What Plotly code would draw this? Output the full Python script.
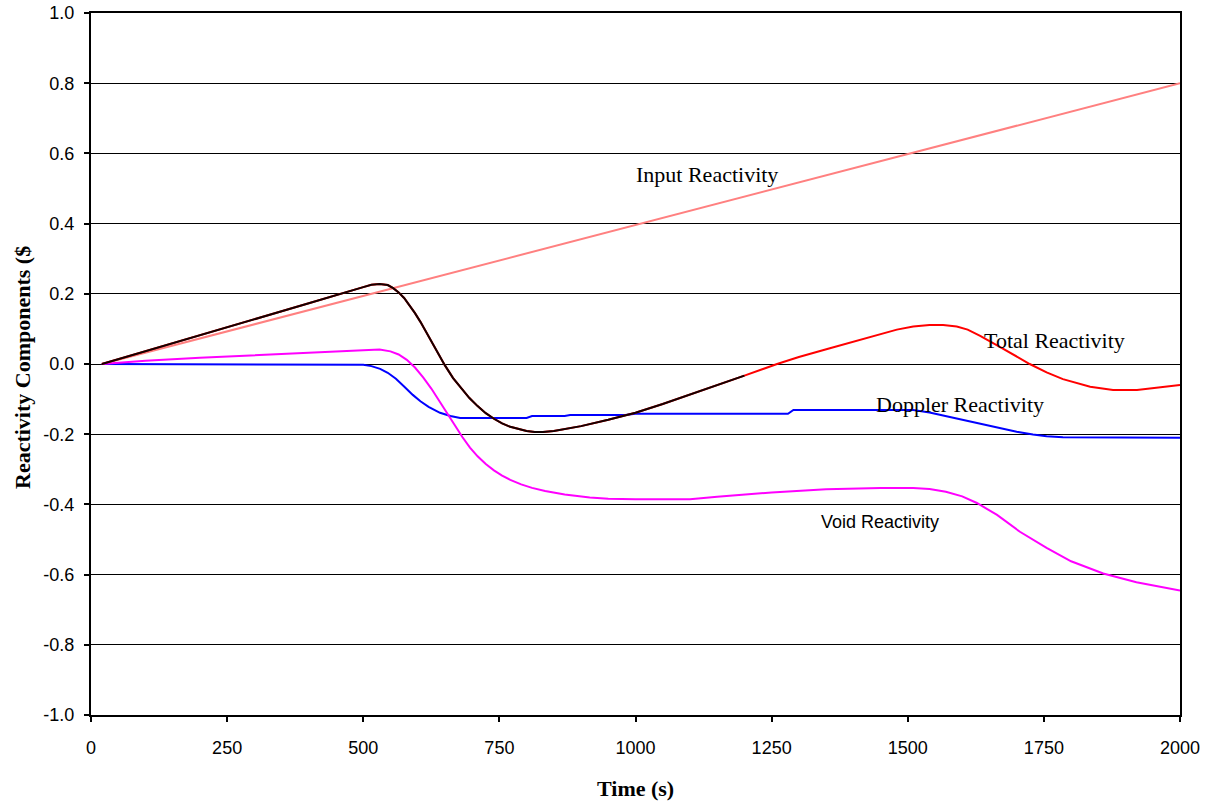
import plotly.graph_objects as go

# ---- data ----
input_t = [20, 2000]
input_v = [0.0, 0.8]

total_t = [20, 100, 200, 300, 400, 500, 515, 530, 545, 555, 565, 575, 585, 595, 605, 615, 625,
           637, 650, 665, 680, 695, 710, 725, 740, 755, 770, 785, 800, 815, 830, 850, 900, 950,
           1000, 1050, 1082, 1100, 1150, 1200, 1260, 1300, 1357, 1400, 1449, 1480, 1510, 1540,
           1565, 1590, 1610, 1633, 1669, 1700, 1724, 1755, 1785, 1835, 1877, 1921, 1958, 2000]
total_v = [0.0, 0.036, 0.082, 0.128, 0.173, 0.219, 0.226, 0.228, 0.225, 0.216, 0.204, 0.188,
           0.168, 0.145, 0.12, 0.093, 0.064, 0.03, -0.004, -0.04, -0.07, -0.097, -0.12, -0.14,
           -0.156, -0.169, -0.179, -0.186, -0.191, -0.194, -0.194, -0.191, -0.177, -0.159, -0.139,
           -0.114, -0.097, -0.087, -0.06, -0.033, 0.0, 0.02, 0.045, 0.064, 0.085, 0.098, 0.107,
           0.111, 0.111, 0.107, 0.098, 0.08, 0.049, 0.022, 0.0, -0.024, -0.043, -0.065, -0.074,
           -0.074, -0.068, -0.06]
black_end_t = 1205

doppler_t = [20, 485, 500, 515, 531, 545, 560, 575, 591, 605, 620, 641, 660, 678, 800, 810, 870,
             880, 981, 1000, 1280, 1290, 1510, 1540, 1572, 1600, 1633, 1665, 1700, 1730, 1755,
             1785, 2000]
doppler_v = [0.0, 0.0, -0.002, -0.006, -0.014, -0.025, -0.042, -0.064, -0.088, -0.106, -0.122,
             -0.139, -0.148, -0.154, -0.154, -0.148, -0.148, -0.145, -0.145, -0.142, -0.142,
             -0.131, -0.131, -0.138, -0.149, -0.159, -0.171, -0.182, -0.193, -0.201, -0.206,
             -0.209, -0.21]

void_t = [20, 100, 200, 300, 400, 500, 530, 550, 565, 580, 595, 610, 625, 640, 654, 668, 682,
          696, 710, 725, 740, 755, 770, 790, 810, 834, 870, 916, 950, 1000, 1100, 1150, 1250,
          1350, 1450, 1510, 1540, 1570, 1600, 1627, 1664, 1706, 1755, 1800, 1859, 1920, 2000]
void_v = [0.0, 0.009, 0.018, 0.025, 0.032, 0.04, 0.041, 0.036, 0.027, 0.012, -0.01, -0.038,
          -0.07, -0.106, -0.14, -0.175, -0.208, -0.238, -0.263, -0.285, -0.303, -0.318, -0.33,
          -0.343, -0.353, -0.362, -0.372, -0.38, -0.384, -0.385, -0.385, -0.378, -0.366, -0.357,
          -0.353, -0.353, -0.356, -0.364, -0.377, -0.396, -0.43, -0.478, -0.524, -0.562, -0.597,
          -0.622, -0.645]

x_ticks = [0, 250, 500, 750, 1000, 1250, 1500, 1750, 2000]
y_ticks = [-1.0, -0.8, -0.6, -0.4, -0.2, 0.0, 0.2, 0.4, 0.6, 0.8, 1.0]

SERIF = "Liberation Serif, Times New Roman, serif"
SANS = "Liberation Sans, Arial, sans-serif"

labels = [
    ("Input Reactivity", 1131, 0.541, SERIF, 22),
    ("Total Reactivity", 1770, 0.068, SERIF, 22),
    ("Doppler Reactivity", 1596, -0.114, SERIF, 22),
    ("Void Reactivity", 1449, -0.45, SANS, 18),
]

# ---- figure ----
fig = go.Figure()
fig.add_trace(go.Scatter(x=input_t, y=input_v, mode="lines",
                         line=dict(color="#ff8080", width=2), name="Input"))
fig.add_trace(go.Scatter(x=doppler_t, y=doppler_v, mode="lines",
                         line=dict(color="#0000ff", width=2), name="Doppler"))
fig.add_trace(go.Scatter(x=void_t, y=void_v, mode="lines",
                         line=dict(color="#ff00ff", width=2), name="Void"))
fig.add_trace(go.Scatter(x=total_t, y=total_v, mode="lines",
                         line=dict(color="#ff0000", width=2), name="Total"))
bt = [t for t in total_t if t <= black_end_t]
bv = total_v[:len(bt)]
fig.add_trace(go.Scatter(x=bt, y=bv, mode="lines",
                         line=dict(color="#140000", width=2), name="Net"))

for text, x, y, fam, size in labels:
    fig.add_annotation(x=x, y=y, text=text, showarrow=False,
                       font=dict(family=fam, size=size, color="black"))

fig.add_annotation(xref="paper", yref="paper", x=0.5, y=0, yshift=-73,
                   xanchor="center", yanchor="middle",
                   text="<b>Time (s)</b>", showarrow=False,
                   font=dict(family=SERIF, size=22, color="black"))
fig.add_annotation(xref="paper", yref="paper", x=0, y=0.5, xshift=-69, yshift=-4,
                   xanchor="center", yanchor="middle", textangle=-90,
                   text="<b>Reactivity Components ($</b>", showarrow=False,
                   font=dict(family=SERIF, size=22, color="black"))

fig.update_layout(
    width=1209, height=802,
    margin=dict(l=91, r=29, t=13, b=87, autoexpand=False),
    plot_bgcolor="white", paper_bgcolor="white",
    showlegend=False,
    font=dict(family=SANS, size=18, color="black"),
)
fig.update_xaxes(range=[0, 2000], tickvals=x_ticks, ticktext=[str(v) for v in x_ticks],
                 showgrid=False, zeroline=False, showline=True, linecolor="black", linewidth=2,
                 mirror=True, ticks="outside", ticklen=5, tickcolor="black", tickwidth=1.5,
                 automargin=False, ticklabelstandoff=10, ticklabeloverflow="allow")
fig.update_yaxes(range=[-1.0, 1.0], tickvals=y_ticks, ticktext=[f"{v:.1f}" for v in y_ticks],
                 showgrid=True, gridcolor="black", gridwidth=1.2, zeroline=False,
                 showline=True, linecolor="black", linewidth=2, mirror=True,
                 ticks="outside", ticklen=5, tickcolor="black", tickwidth=1.5,
                 automargin=False, ticklabelstandoff=6, ticklabeloverflow="allow")

fig.write_html("out.html", config={"displayModeBar": False},
               post_script="document.body.style.margin='0';document.body.style.overflow='hidden';")
